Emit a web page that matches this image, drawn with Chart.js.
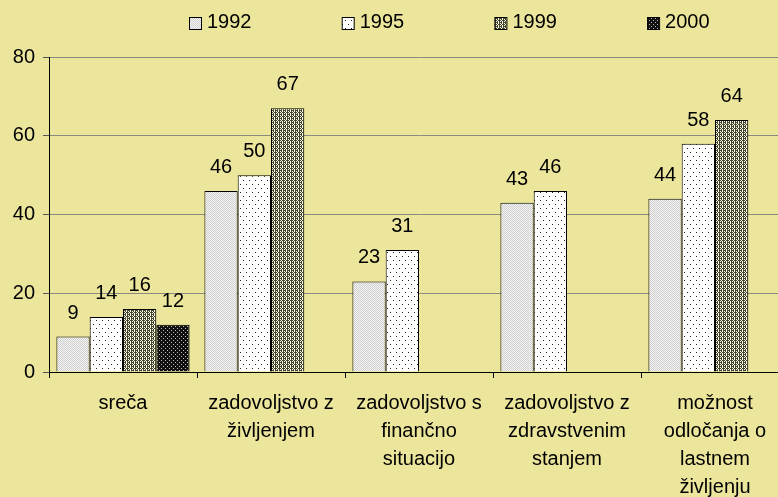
<!DOCTYPE html>
<html>
<head>
<meta charset="utf-8">
<script src="https://cdn.jsdelivr.net/npm/chart.js@4/dist/chart.umd.min.js"></script>
<style>
  html, body { margin: 0; padding: 0; background: #ebe69b; overflow: hidden; }
  #wrap { width: 790px; height: 497px; }
</style>
</head>
<body>
<div id="wrap"><canvas id="surveyChart" width="790" height="497"></canvas></div>
<script>
const categories = [
  ['sreča'],
  ['zadovoljstvo z', 'življenjem'],
  ['zadovoljstvo s', 'finančno', 'situacijo'],
  ['zadovoljstvo z', 'zdravstvenim', 'stanjem'],
  ['možnost', 'odločanja o', 'lastnem', 'življenju']
];
const years = ['1992', '1995', '1999', '2000'];
const values1992 = [9, 46, 23, 43, 44];
const values1995 = [14, 50, 31, 46, 58];
const values1999 = [16, 67, null, null, 64];
const values2000 = [12, null, null, null, null];
const yTicks = [0, 20, 40, 60, 80];

// small pixel tiles used as fill patterns
function makePattern(rows, colors) {
  const c = document.createElement('canvas');
  c.width = rows[0].length;
  c.height = rows.length;
  const g = c.getContext('2d');
  rows.forEach((row, y) => {
    for (let x = 0; x < row.length; x++) {
      g.fillStyle = colors[row[x]];
      g.fillRect(x, y, 1, 1);
    }
  });
  return g.createPattern(c, 'repeat');
}

const ctx = document.getElementById('surveyChart').getContext('2d');
const fills = [
  makePattern(['ab', 'ba'], { a: '#cfcfcf', b: '#f4f4f4' }),
  makePattern(['kwwwww', 'wwwwww', 'wwwwww', 'wwwwww', 'wwwkww', 'wwwwww', 'wwwwww', 'wwwwww'], { k: '#222222', w: '#ffffff' }),
  makePattern(['dwdd', 'wdwd', 'ddwd', 'wdwd'], { d: '#45452a', w: '#fbfbf0' }),
  makePattern(['kgkk', 'kkkk', 'kkkg', 'kkkk'], { k: '#111111', g: '#bbbbbb' })
];
const series = [values1992, values1995, values1999, values2000];

const valueLabels = {
  id: 'valueLabels',
  afterDatasetsDraw(chart) {
    const c = chart.ctx;
    c.save();
    c.font = '20px "Liberation Sans", Arial, sans-serif';
    c.fillStyle = '#000';
    c.textAlign = 'center';
    c.textBaseline = 'alphabetic';
    chart.data.datasets.forEach((ds, i) => {
      chart.getDatasetMeta(i).data.forEach((bar, j) => {
        const v = ds.data[j];
        if (v === null) return;
        c.fillText(String(v), bar.x, bar.y - 18);
      });
    });
    c.restore();
  }
};

const legendRow = {
  id: 'legendRow',
  afterDraw(chart) {
    const c = chart.ctx;
    c.save();
    c.font = '20px "Liberation Sans", Arial, sans-serif';
    c.textBaseline = 'middle';
    c.textAlign = 'left';
    chart.data.datasets.forEach((ds, i) => {
      const x = 189 + i * 152.7;
      c.fillStyle = ds.backgroundColor;
      c.fillRect(x, 17, 12, 12);
      c.strokeStyle = '#000';
      c.lineWidth = 1;
      c.strokeRect(x + 0.5, 17.5, 12, 12);
      c.fillStyle = '#000';
      c.fillText(ds.label, x + 18, 22);
    });
    c.restore();
  }
};

new Chart(ctx, {
  type: 'bar',
  data: {
    labels: categories,
    datasets: years.map((y, i) => ({
      label: y,
      data: series[i],
      backgroundColor: fills[i],
      borderColor: '#000',
      borderWidth: 1,
      categoryPercentage: 0.9,
      barPercentage: 1.0
    }))
  },
  options: {
    responsive: false,
    animation: false,
    layout: { padding: { top: 57, left: 0, right: 1, bottom: 0 } },
    plugins: {
      legend: { display: false },
      tooltip: { enabled: false }
    },
    scales: {
      x: {
        grid: { display: true, drawOnChartArea: false, drawTicks: true, tickLength: 6, color: '#000' },
        border: { color: '#000', width: 1 },
        ticks: {
          color: '#000',
          padding: 11,
          maxRotation: 0,
          autoSkip: false,
          font: { family: '"Liberation Sans", Arial, sans-serif', size: 20, lineHeight: 1.4 }
        },
        afterFit(scale) { scale.height = 125; }
      },
      y: {
        min: 0,
        max: 80,
        afterBuildTicks(scale) { scale.ticks = yTicks.map(v => ({ value: v })); },
        grid: { color: '#8a8a80', tickLength: 6, tickColor: '#555' },
        border: { color: '#000', width: 1 },
        ticks: {
          color: '#000',
          padding: 8,
          font: { family: '"Liberation Sans", Arial, sans-serif', size: 20 }
        },
        afterFit(scale) { scale.width = 49; }
      }
    }
  },
  plugins: [valueLabels, legendRow]
});
</script>
</body>
</html>
